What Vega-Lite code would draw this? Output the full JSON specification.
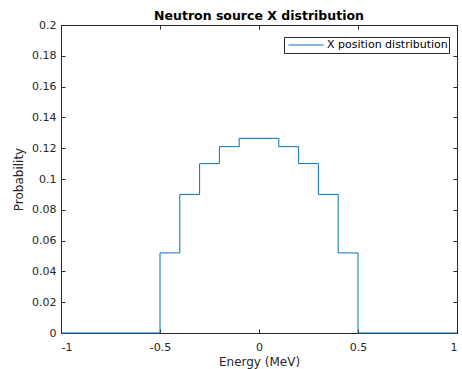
{
  "$schema": "https://vega.github.io/schema/vega-lite/v6.json",
  "width": 396,
  "height": 308,
  "autosize": {"type": "none"},
  "padding": {"left": 61, "top": 25, "right": 5, "bottom": 36},
  "background": "white",
  "title": {"text": "Neutron source X distribution", "fontSize": 12.5, "fontWeight": "bold", "font": "DejaVu Sans", "color": "#000000", "anchor": "middle", "offset": -3},
  "data": {"values": [
    {"x": -1.0, "p": 0, "series": "X position distribution"},
    {"x": -0.5, "p": 0.052, "series": "X position distribution"},
    {"x": -0.4, "p": 0.090, "series": "X position distribution"},
    {"x": -0.3, "p": 0.110, "series": "X position distribution"},
    {"x": -0.2, "p": 0.121, "series": "X position distribution"},
    {"x": -0.1, "p": 0.1264, "series": "X position distribution"},
    {"x": 0.0, "p": 0.1264, "series": "X position distribution"},
    {"x": 0.1, "p": 0.121, "series": "X position distribution"},
    {"x": 0.2, "p": 0.110, "series": "X position distribution"},
    {"x": 0.3, "p": 0.090, "series": "X position distribution"},
    {"x": 0.4, "p": 0.052, "series": "X position distribution"},
    {"x": 0.5, "p": 0, "series": "X position distribution"},
    {"x": 1.0, "p": 0, "series": "X position distribution"}
  ]},
  "layer": [
    {
      "mark": {"type": "line", "interpolate": "step-after", "strokeWidth": 1, "clip": false},
      "encoding": {
        "x": {"field": "x", "type": "quantitative", "scale": {"domain": [-1, 1], "nice": false, "zero": false},
          "axis": {"orient": "bottom", "values": [-1, -0.5, 0, 0.5, 1], "format": "~g", "labelExpr": "replace(datum.label, '\u2212', '-')", "title": "Energy (MeV)", "labelPadding": 12, "titlePadding": 4}},
        "y": {"field": "p", "type": "quantitative", "scale": {"domain": [0, 0.2], "nice": false},
          "axis": {"orient": "left", "values": [0, 0.02, 0.04, 0.06, 0.08, 0.1, 0.12, 0.14, 0.16, 0.18, 0.2], "format": ".2~f", "title": "Probability", "labelPadding": 9, "titlePadding": 6}},
        "color": {"field": "series", "type": "nominal", "scale": {"range": ["#0072BD"]},
          "legend": {"orient": "none", "legendX": 223, "legendY": 12, "title": null, "symbolType": "stroke", "symbolSize": 1225, "clipHeight": 14, "symbolStrokeWidth": 1, "symbolOffset": 3, "strokeColor": "#262626", "fillColor": "white", "padding": 1, "labelFontSize": 11, "labelFont": "DejaVu Sans", "labelColor": "#000000", "labelOffset": 3}}
      }
    },
    {
      "mark": {"type": "line", "opacity": 0},
      "encoding": {
        "x": {"field": "x", "type": "quantitative", "axis": {"orient": "top", "values": [-1, -0.5, 0, 0.5, 1], "labels": false, "title": null}},
        "y": {"field": "p", "type": "quantitative", "axis": {"orient": "right", "values": [0, 0.02, 0.04, 0.06, 0.08, 0.1, 0.12, 0.14, 0.16, 0.18, 0.2], "labels": false, "title": null}}
      }
    }
  ],
  "resolve": {"axis": {"x": "independent", "y": "independent"}},
  "config": {
    "view": {"stroke": null},
    "font": "DejaVu Sans",
    "axis": {
      "grid": false,
      "domainColor": "#262626",
      "domainWidth": 1,
      "tickColor": "#262626",
      "tickSize": -4,
      "tickWidth": 1,
      "labelFont": "DejaVu Sans",
      "labelFontSize": 11,
      "labelColor": "#262626",
      "labelPadding": 7,
      "titleFont": "DejaVu Sans",
      "titleFontSize": 12,
      "titleFontWeight": "normal",
      "titleColor": "#262626"
    }
  }
}
